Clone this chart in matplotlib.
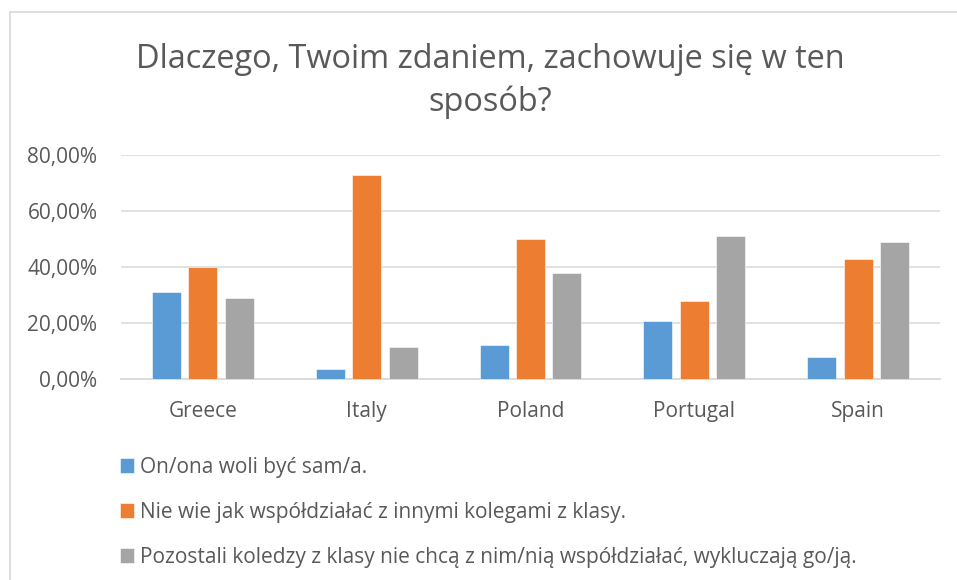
import numpy as np
import matplotlib.pyplot as plt
from matplotlib.lines import Line2D

countries = ['Greece', 'Italy', 'Poland', 'Portugal', 'Spain']
alone = [31.0, 3.7, 12.2, 20.8, 7.9]
dont_know = [40.0, 73.0, 50.0, 28.0, 43.0]
excluded = [28.8, 11.5, 37.7, 50.9, 48.9]
labels = ['On/ona woli być sam/a.',
          'Nie wie jak współdziałać z innymi kolegami z klasy.',
          'Pozostali koledzy z klasy nie chcą z nim/nią współdziałać, wykluczają go/ją.']
colors = ['#5B9BD5', '#ED7D31', '#A5A5A5']
yticks = [0, 20, 40, 60, 80]

plt.rcParams['font.family'] = ['Open Sans', 'DejaVu Sans']
txt = '#595959'

fig = plt.figure(figsize=(9.57, 5.8), dpi=100)
ax = fig.add_axes([121 / 957, 1 - 379 / 580, 819 / 957, 224 / 580])

x = np.arange(len(countries))
w = 0.177
step = 0.222
series = [alone, dont_know, excluded]
for i, vals in enumerate(series):
    ax.bar(x + (i - 1) * step, vals, w, color=colors[i], label=labels[i],
           edgecolor='white', linewidth=0.4, zorder=3)

ax.set_xlim(-0.5, len(countries) - 0.5)
ax.set_ylim(0, 80)
ax.set_yticks(yticks)
ax.set_yticklabels(['%d,00%%' % v for v in yticks])
ax.set_xticks(x)
ax.set_xticklabels(countries)
ax.tick_params(axis='both', length=0, labelsize=15, colors=txt)
ax.tick_params(axis='y', pad=17)
ax.tick_params(axis='x', pad=15.5)
ax.grid(axis='y', color='#D9D9D9', linewidth=1.1, zorder=0)
for s in ['top', 'right', 'left']:
    ax.spines[s].set_visible(False)
ax.spines['bottom'].set_color('#D9D9D9')
ax.spines['bottom'].set_linewidth(1.3)

fig.text(490 / 957, 1 - 68 / 580, 'Dlaczego, Twoim zdaniem, zachowuje się w ten',
         ha='center', va='baseline', fontsize=23.4, color=txt)
fig.text(490 / 957, 1 - 111 / 580, 'sposób?', ha='center', va='baseline',
         fontsize=23.4, color=txt)

leg = fig.legend(loc='upper left', bbox_to_anchor=(101 / 957, 1 - 438 / 580),
                 frameon=False, fontsize=15, labelcolor=txt,
                 handlelength=0.68, handleheight=0.68, handletextpad=0.3,
                 labelspacing=1.15)

# chart border (top and left only visible in the crop)
fig.add_artist(Line2D([10 / 957, 1], [1 - 11.5 / 580] * 2, color='#D9D9D9', linewidth=1.2))
fig.add_artist(Line2D([9.5 / 957] * 2, [0, 1 - 11.5 / 580], color='#D9D9D9', linewidth=1.2))

fig.savefig('out.png', dpi=100)
